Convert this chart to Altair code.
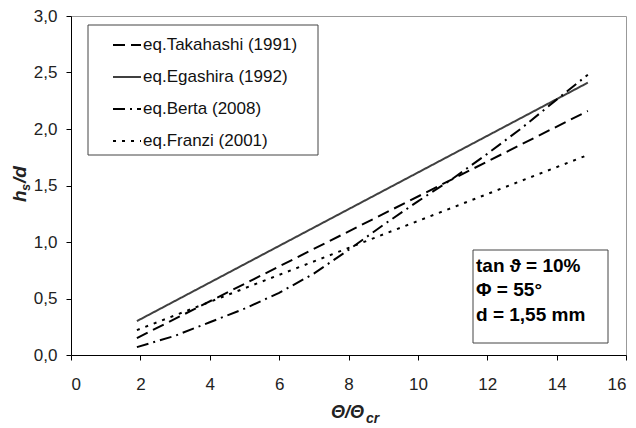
import altair as alt
import pandas as pd

series_names = ["eq.Takahashi (1991)", "eq.Egashira (1992)", "eq.Berta (2008)", "eq.Franzi (2001)"]

takahashi_x = [1.9, 14.9]
takahashi_y = [0.15, 2.16]

egashira_x = [1.9, 14.9]
egashira_y = [0.30, 2.41]

berta_x = [1.9, 3, 4, 5, 6, 7, 8, 9, 10, 11, 12, 13, 14, 14.9]
berta_y = [0.07, 0.17, 0.29, 0.41, 0.55, 0.72, 0.93, 1.15, 1.36, 1.56, 1.78, 2.01, 2.26, 2.48]

franzi_x = [1.9, 14.9]
franzi_y = [0.22, 1.77]

rows = []
for name, xs, ys in [
    (series_names[0], takahashi_x, takahashi_y),
    (series_names[1], egashira_x, egashira_y),
    (series_names[2], berta_x, berta_y),
    (series_names[3], franzi_x, franzi_y),
]:
    for i, (a, b) in enumerate(zip(xs, ys)):
        rows.append({"series": name, "x": a, "y": b, "order": i})
df = pd.DataFrame(rows)

W, H = 555, 339

def leg():
    return alt.Legend(title=None, orient="none", legendX=41, legendY=14,
                      symbolType="stroke", symbolSize=784, symbolStrokeWidth=2,
                      labelFontSize=17, labelFont="Liberation Sans", labelColor="#111",
                      rowPadding=9, labelOffset=1, padding=0)

lines = alt.Chart(df).mark_line(clip=True).encode(
    x=alt.X("x:Q", scale=alt.Scale(domain=[0, 16], nice=False),
            axis=alt.Axis(values=list(range(0, 17, 2)), title=None, grid=False,
                          tickSize=5, labelFontSize=17, labelPadding=16,
                          domainColor="black", tickColor="black", labelColor="#222",
                          labelFont="Liberation Sans")),
    y=alt.Y("y:Q", scale=alt.Scale(domain=[0, 3], nice=False),
            axis=alt.Axis(values=[0, 0.5, 1, 1.5, 2, 2.5, 3], title=None, grid=False,
                          tickSize=5, labelFontSize=17, labelPadding=9,
                          labelExpr="replace(format(datum.value, '.1f'), '.', ',')",
                          domainColor="black", tickColor="black", labelColor="#222",
                          labelFont="Liberation Sans")),
    order="order:Q",
    color=alt.Color("series:N", sort=series_names,
                    scale=alt.Scale(domain=series_names, range=["#000000", "#404040", "#000000", "#000000"]),
                    legend=leg()),
    strokeDash=alt.StrokeDash("series:N", sort=series_names,
                              scale=alt.Scale(domain=series_names,
                                              range=[[12, 6], [1, 0], [12, 5, 2, 5], [3, 6]]),
                              legend=leg()),
)

legend_box = alt.Chart(pd.DataFrame({"a": [0]})).mark_rect(
    fill="white", stroke="#444", strokeWidth=1
).encode(x=alt.value(17), x2=alt.value(247), y=alt.value(9), y2=alt.value(139))

note_box = alt.Chart(pd.DataFrame({"a": [0]})).mark_rect(
    fill="white", stroke="#444", strokeWidth=1
).encode(x=alt.value(402), x2=alt.value(537), y=alt.value(234), y2=alt.value(327))

note_lines = ["tan \u03d1 = 10%", "\u03a6 = 55\u00b0", "d = 1,55 mm"]
note_y = [250, 274, 299]
note_df = pd.DataFrame({"t": note_lines, "py": note_y})
note_text = alt.Chart(note_df).mark_text(
    align="left", baseline="middle", fontSize=19, fontWeight="bold", font="Liberation Sans", color="black"
).encode(x=alt.value(405), y=alt.Y("py:Q", scale=None), text="t:N")

xt1 = alt.Chart(pd.DataFrame({"t": ["\u0398/\u0398"]})).mark_text(
    align="right", baseline="alphabetic", fontSize=18, fontWeight="bold", fontStyle="italic",
    font="Liberation Sans", color="#222"
).encode(x=alt.value(293), y=alt.value(402), text="t:N")
xt2 = alt.Chart(pd.DataFrame({"t": ["cr"]})).mark_text(
    align="left", baseline="alphabetic", fontSize=14, fontWeight="bold", fontStyle="italic",
    font="Liberation Sans", color="#222"
).encode(x=alt.value(295), y=alt.value(407), text="t:N")

yt1 = alt.Chart(pd.DataFrame({"t": ["h"]})).mark_text(
    align="left", baseline="alphabetic", angle=270, fontSize=19, fontWeight="bold", fontStyle="italic",
    font="Liberation Sans", color="#222"
).encode(x=alt.value(-45), y=alt.value(186), text="t:N")
yt2 = alt.Chart(pd.DataFrame({"t": ["s"]})).mark_text(
    align="left", baseline="alphabetic", angle=270, fontSize=13, fontWeight="bold", fontStyle="italic",
    font="Liberation Sans", color="#222"
).encode(x=alt.value(-41), y=alt.value(175), text="t:N")
yt3 = alt.Chart(pd.DataFrame({"t": ["/d"]})).mark_text(
    align="left", baseline="alphabetic", angle=270, fontSize=19, fontWeight="bold", fontStyle="italic",
    font="Liberation Sans", color="#222"
).encode(x=alt.value(-45), y=alt.value(167), text="t:N")

chart = alt.layer(legend_box, note_box, lines, note_text, xt1, xt2, yt1, yt2, yt3).properties(
    width=W, height=H,
    padding={"left": 71, "top": 16, "right": 10, "bottom": 73},
    autosize=alt.AutoSizeParams(type="none"),
    background="white",
).configure_view(stroke="#999999", strokeWidth=1).configure_axis(domainWidth=1, tickWidth=1)

chart.save("out.html", embed_options={"renderer": "svg", "actions": False})
